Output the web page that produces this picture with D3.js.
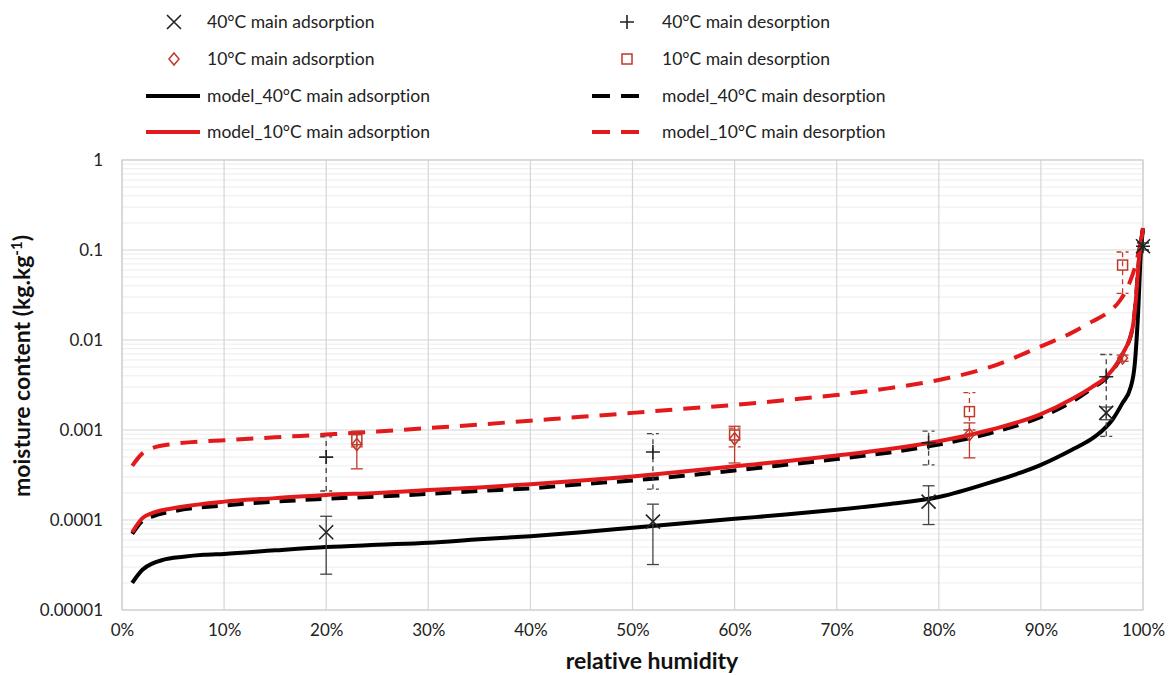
<!DOCTYPE html>
<html><head><meta charset="utf-8">
<script src="https://cdn.jsdelivr.net/npm/d3@7"></script>
<style>body{margin:0;background:#fff;} text{font-family:Lato,"Open Sans",sans-serif;font-variant-ligatures:none;}</style>
</head><body>
<svg id="chart" width="1174" height="675"></svg>
<script>
// ---------- DATA ----------
const xTicks = [0,10,20,30,40,50,60,70,80,90,100];
const yTicks = [1e-5,1e-4,1e-3,1e-2,1e-1,1];
const yTickLabels = ["0.00001","0.0001","0.001","0.01","0.1","1"];

// model curves: [RH %, moisture content]
const model40Ads = [[1,2.0e-5],[2,2.8e-5],[3,3.3e-5],[4,3.6e-5],[6,3.9e-5],[8,4.1e-5],[10,4.2e-5],[15,4.6e-5],[20,5.0e-5],[25,5.3e-5],[30,5.6e-5],[35,6.1e-5],[40,6.6e-5],[45,7.3e-5],[50,8.2e-5],[55,9.2e-5],[60,1.03e-4],[65,1.15e-4],[70,1.3e-4],[75,1.5e-4],[80,1.8e-4],[85,2.6e-4],[90,4.1e-4],[93,6.0e-4],[95,8.0e-4],[96,9.8e-4],[97,1.3e-3],[98,2.0e-3],[98.8,3.0e-3],[99.2,5.5e-3],[99.5,1.8e-2],[99.8,0.1],[100,0.17]];
const model40Des = [[1,7.0e-5],[2,9.8e-5],[3,1.1e-4],[5,1.25e-4],[10,1.45e-4],[15,1.6e-4],[20,1.72e-4],[25,1.82e-4],[30,1.95e-4],[35,2.1e-4],[40,2.25e-4],[45,2.5e-4],[50,2.75e-4],[55,3.1e-4],[60,3.55e-4],[65,4.1e-4],[70,4.75e-4],[75,5.6e-4],[80,6.9e-4],[85,9.2e-4],[90,1.4e-3],[93,2.05e-3],[95,2.9e-3],[96.5,3.9e-3],[98,7.0e-3],[99,1.4e-2],[99.3,2.8e-2],[99.6,7.7e-2],[100,0.175]];
const model10Ads = [[1,7.3e-5],[2,1.05e-4],[3,1.2e-4],[5,1.35e-4],[10,1.6e-4],[15,1.75e-4],[20,1.9e-4],[25,2.0e-4],[30,2.15e-4],[35,2.3e-4],[40,2.5e-4],[45,2.75e-4],[50,3.05e-4],[55,3.45e-4],[60,3.95e-4],[65,4.5e-4],[70,5.2e-4],[75,6.1e-4],[80,7.5e-4],[85,1.0e-3],[90,1.5e-3],[93,2.2e-3],[95,3.0e-3],[96.5,4.0e-3],[98,7.0e-3],[99,1.4e-2],[99.3,2.8e-2],[99.6,7.7e-2],[100,0.175]];
const model10Des = [[1,4.0e-4],[2,5.5e-4],[3,6.3e-4],[5,7.0e-4],[10,7.7e-4],[15,8.3e-4],[20,8.9e-4],[25,9.6e-4],[30,1.05e-3],[35,1.15e-3],[40,1.27e-3],[45,1.4e-3],[50,1.55e-3],[55,1.72e-3],[60,1.9e-3],[65,2.15e-3],[70,2.45e-3],[75,2.9e-3],[80,3.6e-3],[85,5.0e-3],[90,8.5e-3],[93,1.2e-2],[95,1.6e-2],[96.5,2.0e-2],[97.8,2.8e-2],[98.6,4.1e-2],[99.3,7.0e-2],[100,0.17]];

// measured points: [RH %, value, errLow, errHigh]
const meas40Ads = [[20,7.3e-5,2.5e-5,1.1e-4],[52,9.6e-5,3.2e-5,1.5e-4],[79,1.6e-4,8.9e-5,2.4e-4],[96.4,1.55e-3,1.3e-3,1.8e-3],[100,0.11,0.1,0.12]];
const meas40Des = [[20,5.0e-4,2.1e-4,8.4e-4],[52,5.7e-4,2.2e-4,9.1e-4],[79,7.2e-4,4.1e-4,9.7e-4],[96.4,3.9e-3,8.5e-4,6.9e-3],[100,0.11,0.1,0.12]];
const meas10Ads = [[23,6.9e-4,3.7e-4,9.7e-4],[60,8.0e-4,4.3e-4,1.1e-3],[83,8.9e-4,4.9e-4,1.2e-3],[98,6.3e-3,5.8e-3,6.8e-3]];
const meas10Des = [[23,7.8e-4,6.5e-4,9.5e-4],[60,8.8e-4,6.5e-4,1.05e-3],[83,1.6e-3,1.0e-3,2.6e-3],[98,6.8e-2,3.3e-2,9.5e-2]];

const legendLabels = ["40°C main adsorption","40°C main desorption","10°C main adsorption","10°C main desorption","model_40°C main adsorption","model_40°C main desorption","model_10°C main adsorption","model_10°C main desorption"];

// ---------- DRAW ----------
const RED = "#e31a1c", DRED = "#c0392b", BLACK = "#000";
const FONT = "Lato,'Open Sans',sans-serif";
const svg = d3.select("#chart");
const L = 122, R = 1143, T = 160, B = 610;
const x = d3.scaleLinear().domain([0,100]).range([L,R]);
const y = d3.scaleLog().domain([1e-5,1]).range([B,T]);

// minor gridlines
const minor = [];
for (let e=-5; e<0; e++) for (let m=2; m<=9; m++) minor.push(m*Math.pow(10,e));
svg.append("g").selectAll("line").data(minor).join("line")
  .attr("x1",L).attr("x2",R).attr("y1",d=>y(d)).attr("y2",d=>y(d))
  .attr("stroke","#ececec").attr("stroke-width",1);
// major gridlines
svg.append("g").selectAll("line").data(yTicks).join("line")
  .attr("x1",L).attr("x2",R).attr("y1",d=>y(d)).attr("y2",d=>y(d))
  .attr("stroke","#d6d6d6").attr("stroke-width",1.2);
svg.append("g").selectAll("line").data(xTicks).join("line")
  .attr("x1",d=>x(d)).attr("x2",d=>x(d)).attr("y1",T).attr("y2",B)
  .attr("stroke","#d6d6d6").attr("stroke-width",1.2);
svg.append("rect").attr("x",L).attr("y",T).attr("width",R-L).attr("height",B-T)
  .attr("fill","none").attr("stroke","#d0d0d0").attr("stroke-width",1.2);

// axes labels via d3 axes
const yAxis = d3.axisLeft(y).tickValues(yTicks).tickFormat((d,i)=>yTickLabels[i]).tickSize(0).tickPadding(19);
const gy = svg.append("g").attr("transform",`translate(${L},0)`).call(yAxis);
gy.select(".domain").remove();
gy.attr("font-family",FONT);
gy.selectAll("text").attr("font-size",17).attr("fill","#222");
const xAxis = d3.axisBottom(x).tickValues(xTicks).tickFormat(d=>d+"%").tickSize(0).tickPadding(14);
const gx = svg.append("g").attr("transform",`translate(0,${B})`).call(xAxis);
gx.select(".domain").remove();
gx.attr("font-family",FONT);
gx.selectAll("text").attr("font-size",17).attr("fill","#222");

svg.append("text").attr("x",652).attr("y",669).attr("text-anchor","middle")
  .attr("font-size",23).attr("font-weight","bold").attr("fill","#111").text("relative humidity");
const yt = svg.append("text").attr("transform","translate(30,366) rotate(-90)").attr("text-anchor","middle")
  .attr("font-size",23).attr("font-weight","bold").attr("fill","#111");
yt.append("tspan").text("moisture content (kg.kg");
yt.append("tspan").attr("dy",-8).attr("font-size",15).text("-1");
yt.append("tspan").attr("dy",8).text(")");

// model lines
const line = d3.line().x(d=>x(d[0])).y(d=>y(d[1])).curve(d3.curveMonotoneX);
const plot = svg.append("g");
plot.append("path").datum(model40Ads).attr("d",line).attr("fill","none").attr("stroke",BLACK).attr("stroke-width",4);
plot.append("path").datum(model40Des).attr("d",line).attr("fill","none").attr("stroke",BLACK).attr("stroke-width",4).attr("stroke-dasharray","16,10");
plot.append("path").datum(model10Des).attr("d",line).attr("fill","none").attr("stroke",RED).attr("stroke-width",4).attr("stroke-dasharray","17,11");
plot.append("path").datum(model10Ads).attr("d",line).attr("fill","none").attr("stroke",RED).attr("stroke-width",4);

// error bars
function errBars(data, color, dashed){
  const g = svg.append("g").attr("stroke",color).attr("stroke-width",1.3).attr("fill","none");
  if (dashed) g.attr("stroke-dasharray","5,4");
  data.forEach(d=>{
    const cx = x(d[0]);
    g.append("line").attr("x1",cx).attr("x2",cx).attr("y1",y(d[2])).attr("y2",y(d[3]));
    g.append("line").attr("x1",cx-6).attr("x2",cx+6).attr("y1",y(d[2])).attr("y2",y(d[2]));
    g.append("line").attr("x1",cx-6).attr("x2",cx+6).attr("y1",y(d[3])).attr("y2",y(d[3]));
  });
}
errBars(meas40Ads,"#444",false);
errBars(meas40Des,"#444",true);
errBars(meas10Ads,DRED,false);
errBars(meas10Des,DRED,true);

// markers
function marker(g, type, cx, cy){
  if (type==="x") g.append("path").attr("d",`M${cx-7},${cy-7}L${cx+7},${cy+7}M${cx-7},${cy+7}L${cx+7},${cy-7}`).attr("stroke","#222").attr("stroke-width",1.6);
  if (type==="+") g.append("path").attr("d",`M${cx-7},${cy}L${cx+7},${cy}M${cx},${cy-7}L${cx},${cy+7}`).attr("stroke","#222").attr("stroke-width",1.6);
  if (type==="d") g.append("path").attr("d",`M${cx},${cy-6}L${cx+5},${cy}L${cx},${cy+6}L${cx-5},${cy}Z`).attr("stroke",DRED).attr("stroke-width",1.5).attr("fill","none");
  if (type==="s") g.append("rect").attr("x",cx-5).attr("y",cy-5).attr("width",10).attr("height",10).attr("stroke",DRED).attr("stroke-width",1.5).attr("fill","none");
}
const mg = svg.append("g");
meas10Des.forEach(d=>marker(mg,"s",x(d[0]),y(d[1])));
meas10Ads.forEach(d=>marker(mg,"d",x(d[0]),y(d[1])));
meas40Des.forEach(d=>marker(mg,"+",x(d[0]),y(d[1])));
meas40Ads.forEach(d=>marker(mg,"x",x(d[0]),y(d[1])));

// legend
const lg = svg.append("g");
const rows = [22,59,96,132];
const colSym = [174,627], colTxt = [207,662];
const types = ["x","+","d","s"];
for (let i=0;i<4;i++){
  const c = i%2, r = Math.floor(i/2);
  marker(lg, types[i], colSym[c], rows[r]);
  lg.append("text").attr("x",colTxt[c]).attr("y",rows[r]).attr("dy","0.35em").attr("font-size",17.5).attr("fill","#222").text(legendLabels[i]);
}
const lineStyles = [[BLACK,null],[BLACK,"18,11"],[RED,null],[RED,"18,11"]];
for (let i=0;i<4;i++){
  const c = i%2, r = 2+Math.floor(i/2);
  const x1 = c===0?146:592, x2 = c===0?200:640;
  const l = lg.append("line").attr("x1",x1).attr("x2",x2).attr("y1",rows[r]).attr("y2",rows[r])
    .attr("stroke",lineStyles[i][0]).attr("stroke-width",4);
  if (lineStyles[i][1]) l.attr("stroke-dasharray",lineStyles[i][1]);
  lg.append("text").attr("x",colTxt[c]).attr("y",rows[r]).attr("dy","0.35em").attr("font-size",17.5).attr("fill","#222").text(legendLabels[4+i]);
}
</script>
</body></html>
